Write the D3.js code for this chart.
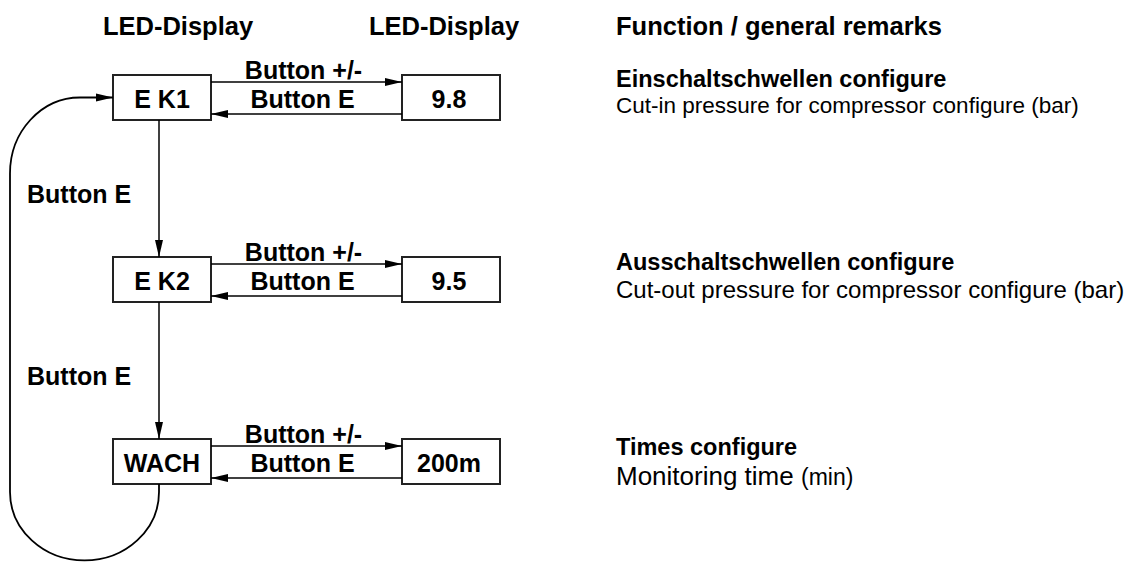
<!DOCTYPE html>
<html>
<head>
<meta charset="utf-8">
<script src="https://cdn.jsdelivr.net/npm/d3@7"></script>
<style>
  body { margin: 0; background: #fff; }
  text { font-family: "Liberation Sans", Arial, sans-serif; fill: #000; }
</style>
</head>
<body>
<script>
// Menu content
var leftCodes = ["E K1", "E K2", "WACH"];
var rightValues = ["9.8", "9.5", "200m"];
var headers = ["LED-Display", "LED-Display", "Function / general remarks"];
var forwardLabel = "Button +/-",
    backLabel = "Button E",
    stepLabel = "Button E";
var titles = ["Einschaltschwellen configure", "Ausschaltschwellen configure", "Times configure"];
var descriptions = ["Cut-in pressure for compressor configure", "Cut-out pressure for compressor configure", "Monitoring time"];
var units = ["(bar)", "(bar)", "(min)"];

// Layout stuff
var width = 1132,
    height = 562;
var boxW = 98, boxH = 45;
var colX = { left: 113, right: 402, text: 616 };
var descSize = [22.5, 24, 26],
    unitSize = [22.5, 24, 23];
var titleDy = [12, 13, 16],
    descDy = [38, 41, 46];

var y = d3.scalePoint()
    .domain(leftCodes)
    .range([75, 439]);

var svg = d3.select("body").append("svg")
    .attr("width", width)
    .attr("height", height);

// Arrow heads
svg.append("defs").append("marker")
    .attr("id", "head")
    .attr("markerUnits", "userSpaceOnUse")
    .attr("viewBox", "0 -5 18 10")
    .attr("refX", 17).attr("refY", 0)
    .attr("markerWidth", 18).attr("markerHeight", 10)
    .attr("orient", "auto")
  .append("path")
    .attr("d", "M0,-4L17,0L0,4Z")
    .attr("fill", "#000");

// Column headers
svg.selectAll(".header")
    .data(headers)
  .enter().append("text")
    .attr("class", "header")
    .attr("x", function(d, i) { return i === 0 ? 178 : i === 1 ? 444 : colX.text; })
    .attr("y", 35)
    .attr("text-anchor", function(d, i) { return i < 2 ? "middle" : "start"; })
    .style("font-size", "25.5px")
    .style("font-weight", "bold")
    .text(function(d) { return d; });

var rows = svg.selectAll(".row")
    .data(leftCodes)
  .enter().append("g")
    .attr("class", "row")
    .attr("transform", function(d) { return "translate(0," + y(d) + ")"; });

// Boxes
rows.append("rect")
    .attr("x", colX.left).attr("y", 0)
    .attr("width", boxW).attr("height", boxH)
    .attr("fill", "none").attr("stroke", "#222").attr("stroke-width", 2);
rows.append("rect")
    .attr("x", colX.right).attr("y", 0)
    .attr("width", boxW).attr("height", boxH)
    .attr("fill", "none").attr("stroke", "#222").attr("stroke-width", 2);

rows.append("text")
    .attr("x", colX.left + boxW / 2).attr("y", 33)
    .attr("text-anchor", "middle")
    .style("font-size", "25px").style("font-weight", "bold")
    .text(function(d) { return d; });
rows.append("text")
    .attr("x", colX.right + boxW / 2 - 2).attr("y", 33)
    .attr("text-anchor", "middle")
    .style("font-size", "25px").style("font-weight", "bold")
    .text(function(d, i) { return rightValues[i]; });

// Horizontal arrows between the two displays
rows.append("line")
    .attr("x1", colX.left + boxW).attr("x2", colX.right)
    .attr("y1", 7).attr("y2", 7)
    .attr("stroke", "#000").attr("stroke-width", 1.5)
    .attr("marker-end", "url(#head)");
rows.append("line")
    .attr("x1", colX.right).attr("x2", colX.left + boxW)
    .attr("y1", 39).attr("y2", 39)
    .attr("stroke", "#000").attr("stroke-width", 1.5)
    .attr("marker-end", "url(#head)");

var midX = (colX.left + boxW + colX.right) / 2;
rows.append("text")
    .attr("x", midX - 3).attr("y", 4)
    .attr("text-anchor", "middle")
    .style("font-size", "25px").style("font-weight", "bold")
    .text(forwardLabel);
rows.append("text")
    .attr("x", midX - 4).attr("y", 33)
    .attr("text-anchor", "middle")
    .style("font-size", "25px").style("font-weight", "bold")
    .text(backLabel);

// Remarks
rows.append("text")
    .attr("x", colX.text).attr("y", function(d, i) { return titleDy[i]; })
    .style("font-size", "23.5px").style("font-weight", "bold")
    .text(function(d, i) { return titles[i]; });
var desc = rows.append("text")
    .attr("x", colX.text).attr("y", function(d, i) { return descDy[i]; })
    .style("font-size", function(d, i) { return descSize[i] + "px"; });
desc.append("tspan").text(function(d, i) { return descriptions[i] + " "; });
desc.append("tspan")
    .style("font-size", function(d, i) { return unitSize[i] + "px"; })
    .text(function(d, i) { return units[i]; });

// Vertical steps down the menu with Button E
var lineX = colX.left + 46;
var steps = d3.pairs(leftCodes);
svg.selectAll(".step")
    .data(steps)
  .enter().append("line")
    .attr("class", "step")
    .attr("x1", lineX).attr("x2", lineX)
    .attr("y1", function(d) { return y(d[0]) + boxH; })
    .attr("y2", function(d) { return y(d[1]); })
    .attr("stroke", "#000").attr("stroke-width", 1.5)
    .attr("marker-end", "url(#head)");
svg.selectAll(".stepLabel")
    .data(steps)
  .enter().append("text")
    .attr("class", "stepLabel")
    .attr("x", 27)
    .attr("y", function(d) { return (y(d[0]) + boxH + y(d[1])) / 2 + 14; })
    .style("font-size", "25px").style("font-weight", "bold")
    .text(stepLabel);

// Loop back from the last entry to the first
var last = y(leftCodes[leftCodes.length - 1]) + boxH,
    first = y(leftCodes[0]) + boxH / 2;
var path = "M" + lineX + "," + last +
    "L" + lineX + "," + (last + 8) +
    "A74,68 0 0 1 10," + (last + 8) +
    "L10," + (first + 76) +
    "A70,76 0 0 1 80," + first +
    "L" + colX.left + "," + first;
svg.append("path")
    .attr("d", path)
    .attr("fill", "none")
    .attr("stroke", "#000").attr("stroke-width", 1.8)
    .attr("marker-end", "url(#head)");
</script>
</body>
</html>
